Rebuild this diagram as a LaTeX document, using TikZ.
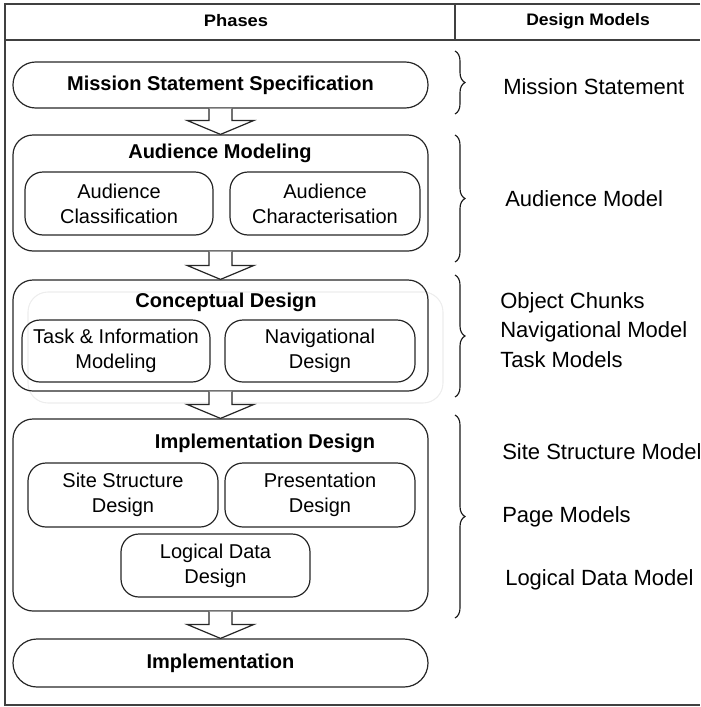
\documentclass[tikz,border=0pt]{standalone}
\usepackage{fontspec}
\setmainfont{Liberation Sans}
\usetikzlibrary{calc,decorations.pathreplacing}
\newcommand\phasearrow[2]{%
  \draw[blockarrow] ($(#1.south)+(-11.5,0)$) -- ($(#2.north)+(-11.5,-14)$)
    -- ($(#2.north)+(-33.5,-14)$) -- (#2.north) -- ($(#2.north)+(33.5,-14)$)
    -- ($(#2.north)+(11.5,-14)$) -- ($(#1.south)+(11.5,0)$);}
\begin{document}
\begin{tikzpicture}[x=0.75pt,y=-0.75pt,
  line/.style={draw=black!85, line width=0.9pt},
  outerbox/.style={line, rounded corners=15pt, minimum width=311.25pt, inner sep=0pt},
  pillbox/.style={line, rounded corners=17pt, minimum width=311.25pt, inner sep=0pt, font=\fontsize{15}{18}\selectfont\bfseries},
  subbox/.style={line, rounded corners=13.5pt, inner sep=0pt, align=center, font=\fontsize{15}{18.75}\selectfont, minimum height=47.25pt},
  title/.style={font=\fontsize{15}{18}\selectfont\bfseries, inner sep=0pt},
  model/.style={anchor=west, inner sep=0pt, font=\fontsize{16.5}{19}\selectfont},
  header/.style={font=\fontsize{12.5}{14}\selectfont\bfseries, inner sep=0pt},
  frame/.style={draw=black!75, line width=0.8pt},
  bracestyle/.style={draw=black!90, line width=0.85pt, decorate, decoration={brace, amplitude=7.5pt}},
  blockarrow/.style={line, fill=white, line join=miter}
]
\useasboundingbox (0,0) rectangle (700,707);
% frame
\draw[frame] (700,4) -- (5,4) -- (5,705) -- (700,705);
\draw[frame] (5,40) -- (700,40);
\draw[frame] (455,4) -- (455,40);
\node[header] (ph) at (236,21) {\scalebox{1.1}[1]{Phases}};
\node[header] (dm) at (588,21) {\scalebox{1.05}[1]{Design Models}};

% faint ghost box
\draw[draw=black!7, line width=0.8pt, rounded corners=15pt] (28,292) rectangle (443,403);

% phase boxes
\node[pillbox, minimum height=34.5pt] (ms) at (220.5,85) {Mission Statement Specification};
\node[outerbox, minimum height=87pt] (am) at (220.5,193) {};
\node[outerbox, minimum height=83.25pt] (cd) at (220.5,335.5) {};
\node[outerbox, minimum height=144pt] (id) at (220.5,515) {};
\node[pillbox, minimum height=36pt, rounded corners=18pt] (im) at (220.5,663) {Implementation};

% titles
\node[title] (amt) at (220,153) {Audience Modeling};
\node[title] (cdt) at (226,302) {Conceptual Design};
\node[title] (idt) at (265,443) {Implementation Design};

% sub boxes
\node[subbox, minimum width=141pt] (ac) at (119,203.5) {Audience\\Classification};
\node[subbox, minimum width=142.5pt] (ach) at (325,203.5) {Audience\\Characterisation};
\node[subbox, minimum width=141pt, minimum height=46.5pt] (tim) at (116,351) {Task \& Information\\Modeling};
\node[subbox, minimum width=142.5pt, minimum height=46.5pt] (nd) at (320,351) {Navigational\\Design};
\node[subbox, minimum width=142.5pt, minimum height=48pt] (ssd) at (123,495) {Site Structure\\Design};
\node[subbox, minimum width=142.5pt, minimum height=48pt] (pd) at (320,495) {Presentation\\Design};
\node[subbox, minimum width=141.75pt] (ldd) at (215.5,565.5) {Logical Data\\Design};

% block arrows
\phasearrow{ms}{am}
\phasearrow{am}{cd}
\phasearrow{cd}{id}
\phasearrow{id}{im}

% braces
\coordinate (b1t) at (455,51);  \coordinate (b1b) at (455,114);
\coordinate (b2t) at (455,135); \coordinate (b2b) at (455,262);
\coordinate (b3t) at (455,275); \coordinate (b3b) at (455,397);
\coordinate (b4t) at (455,415); \coordinate (b4b) at (455,618);
\draw[bracestyle] (b1t) -- (b1b);
\draw[bracestyle] (b2t) -- (b2b);
\draw[bracestyle] (b3t) -- (b3b);
\draw[bracestyle] (b4t) -- (b4b);

% design models
\node[model] (m1) at (503,87) {Mission Statement};
\node[model] (m2) at (505,199) {Audience Model};
\node[model] (m3) at (500,303) {Object Chunks};
\node[model] (m4) at (500,332) {Navigational Model};
\node[model] (m5) at (500,360) {Task Models};
\node[model] (m6) at (502,452) {Site Structure Model};
\node[model] (m7) at (502,517) {Page Models};
\node[model] (m8) at (505,580) {Logical Data Model};
\end{tikzpicture}
\end{document}
